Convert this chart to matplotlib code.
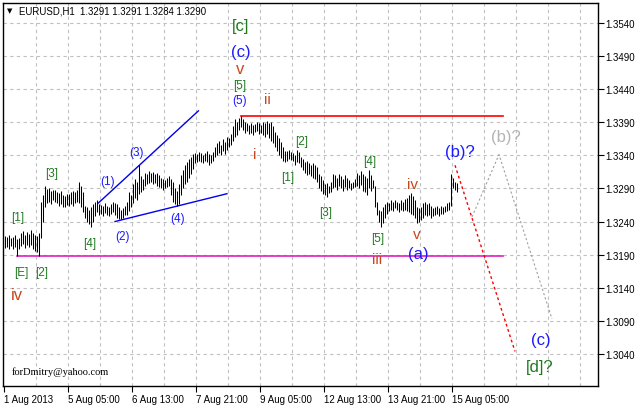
import matplotlib
matplotlib.use("Agg")
import matplotlib.pyplot as plt
from matplotlib.transforms import Affine2D

W, H = 635, 406

# hourly EURUSD bars (high / low), one per hour from the left edge
highs = [
    1.3218, 1.3216, 1.3219, 1.3215, 1.3217, 1.3220, 1.3214,
    1.3215, 1.3222, 1.3226, 1.3219, 1.3224, 1.3221, 1.3227, 1.3223, 1.3220, 1.3218,
    1.3222, 1.3270,
    1.3280, 1.3294, 1.3289, 1.3291, 1.3286, 1.3288, 1.3287, 1.3285, 1.3283, 1.3286,
    1.3280, 1.3278, 1.3282, 1.3281, 1.3284, 1.3286, 1.3284, 1.3288, 1.3300, 1.3294,
    1.3285, 1.3264, 1.3262, 1.3258, 1.3262, 1.3266, 1.3270, 1.3272, 1.3266, 1.3265,
    1.3264, 1.3268, 1.3263, 1.3262, 1.3266, 1.3270, 1.3268, 1.3266, 1.3262, 1.3258,
    1.3260, 1.3264, 1.3270, 1.3285, 1.3280, 1.3296, 1.3304, 1.3300, 1.3325, 1.3308,
    1.3304, 1.3314, 1.3312, 1.3316, 1.3313, 1.3315, 1.3312, 1.3314, 1.3310, 1.3306,
    1.3304, 1.3302, 1.3306, 1.3308, 1.3304, 1.3300, 1.3290, 1.3286, 1.3296, 1.3310,
    1.3318, 1.3326, 1.3330, 1.3334, 1.3338, 1.3342, 1.3344, 1.3342, 1.3345, 1.3343,
    1.3341, 1.3344, 1.3346, 1.3342, 1.3340, 1.3345, 1.3352, 1.3358, 1.3362, 1.3356,
    1.3364, 1.3360, 1.3368, 1.3366, 1.3372, 1.3384, 1.3394, 1.3390, 1.3396, 1.3400,
    1.3394, 1.3390, 1.3388, 1.3386, 1.3388, 1.3385, 1.3387, 1.3390, 1.3388, 1.3386,
    1.3390, 1.3388, 1.3391, 1.3389, 1.3390, 1.3384, 1.3375, 1.3370, 1.3366, 1.3360,
    1.3352, 1.3346, 1.3346, 1.3348, 1.3345, 1.3344, 1.3340, 1.3348, 1.3345, 1.3338,
    1.3334, 1.3330, 1.3332, 1.3328, 1.3326, 1.3328, 1.3325, 1.3322, 1.3312, 1.3308,
    1.3302, 1.3296, 1.3298, 1.3294, 1.3300, 1.3312, 1.3310, 1.3306, 1.3312, 1.3308,
    1.3304, 1.3310, 1.3306, 1.3302, 1.3298, 1.3300, 1.3304, 1.3314, 1.3310, 1.3316,
    1.3312, 1.3308, 1.3306, 1.3318, 1.3310, 1.3302, 1.3294, 1.3270, 1.3258, 1.3256,
    1.3262, 1.3266, 1.3270, 1.3268, 1.3272, 1.3270, 1.3273, 1.3270, 1.3268, 1.3272,
    1.3270, 1.3274, 1.3276, 1.3280, 1.3283, 1.3279, 1.3272, 1.3262, 1.3260, 1.3262,
    1.3268, 1.3270, 1.3266, 1.3268, 1.3264, 1.3260, 1.3262, 1.3263, 1.3261, 1.3264,
    1.3262, 1.3264, 1.3268, 1.3270, 1.3312, 1.3305, 1.3300, 1.3298,
]
lows = [
    1.3200, 1.3202, 1.3199, 1.3203, 1.3198, 1.3201, 1.3188,
    1.3198, 1.3203, 1.3206, 1.3200, 1.3205, 1.3202, 1.3204, 1.3199, 1.3196, 1.3194,
    1.3188, 1.3215,
    1.3240, 1.3262, 1.3268, 1.3270, 1.3266, 1.3272, 1.3270, 1.3268, 1.3264, 1.3266,
    1.3262, 1.3262, 1.3265, 1.3263, 1.3266, 1.3264, 1.3268, 1.3270, 1.3268, 1.3262,
    1.3255, 1.3245, 1.3240, 1.3236, 1.3232, 1.3240, 1.3248, 1.3254, 1.3250, 1.3252,
    1.3248, 1.3253, 1.3250, 1.3249, 1.3251, 1.3254, 1.3250, 1.3246, 1.3244, 1.3244,
    1.3246, 1.3250, 1.3250, 1.3256, 1.3262, 1.3268, 1.3276, 1.3272, 1.3282, 1.3284,
    1.3288, 1.3294, 1.3296, 1.3298, 1.3300, 1.3296, 1.3298, 1.3294, 1.3292, 1.3290,
    1.3288, 1.3290, 1.3292, 1.3294, 1.3280, 1.3270, 1.3266, 1.3263, 1.3266, 1.3280,
    1.3290, 1.3296, 1.3300, 1.3306, 1.3312, 1.3320, 1.3328, 1.3330, 1.3332, 1.3330,
    1.3328, 1.3332, 1.3330, 1.3326, 1.3328, 1.3332, 1.3338, 1.3340, 1.3344, 1.3340,
    1.3346, 1.3342, 1.3348, 1.3352, 1.3356, 1.3362, 1.3368, 1.3370, 1.3378, 1.3382,
    1.3378, 1.3374, 1.3376, 1.3372, 1.3374, 1.3370, 1.3375, 1.3376, 1.3372, 1.3374,
    1.3370, 1.3368, 1.3372, 1.3366, 1.3362, 1.3358, 1.3352, 1.3346, 1.3340, 1.3336,
    1.3332, 1.3330, 1.3332, 1.3334, 1.3333, 1.3331, 1.3326, 1.3330, 1.3328, 1.3322,
    1.3318, 1.3314, 1.3310, 1.3312, 1.3308, 1.3306, 1.3304, 1.3300, 1.3290, 1.3286,
    1.3282, 1.3280, 1.3277, 1.3283, 1.3284, 1.3290, 1.3292, 1.3288, 1.3294, 1.3290,
    1.3286, 1.3292, 1.3288, 1.3290, 1.3288, 1.3290, 1.3292, 1.3294, 1.3290, 1.3295,
    1.3286, 1.3284, 1.3280, 1.3290, 1.3286, 1.3290, 1.3262, 1.3250, 1.3240, 1.3232,
    1.3238, 1.3246, 1.3252, 1.3256, 1.3258, 1.3256, 1.3260, 1.3258, 1.3254, 1.3258,
    1.3256, 1.3258, 1.3256, 1.3254, 1.3252, 1.3250, 1.3246, 1.3238, 1.3240, 1.3242,
    1.3246, 1.3250, 1.3248, 1.3250, 1.3246, 1.3248, 1.3250, 1.3252, 1.3249, 1.3251,
    1.3252, 1.3254, 1.3256, 1.3258, 1.3264, 1.3290, 1.3288, 1.3284,
]

price_ticks = [1.3040, 1.3090, 1.3140, 1.3190, 1.3240, 1.3290, 1.3340, 1.3390, 1.3440, 1.3490, 1.3540]
date_labels = ["1 Aug 2013", "5 Aug 05:00", "6 Aug 13:00", "7 Aug 21:00",
               "9 Aug 05:00", "12 Aug 13:00", "13 Aug 21:00", "15 Aug 05:00"]

# drawn objects (bar index, price)
support = (6, 249, 1.3188)
resistance = (118, 249, 1.3400)
channel_upper = ([46.7, 96.7], [1.3268, 1.3407])
channel_lower = ([55, 111], [1.3240, 1.3282])
forecast_red = ([225, 255], [1.3325, 1.3044])
forecast_gray = ([233.5, 247, 273.5], [1.3247, 1.3341, 1.3093])

GREEN = "#1f7a1f"
BLUE = "#1a1aff"
BROWN = "#c8461e"
GRAY = "#b4b4b4"


def main():
    fig = plt.figure(figsize=(W / 100, H / 100), dpi=100)
    ax = fig.add_axes([3 / W, (H - 387) / H, 595 / W, 383 / H])
    ax.set_xlim(-1, 296.5)
    ax.set_ylim(1.29918, 1.35698)

    for p in price_ticks:
        ax.axhline(p, color="#c0c0c0", lw=0.8, ls=(0, (3, 3)), zorder=0)
    for k in range(1, 19):
        ax.axvline(-0.5 + 16 * k, color="#c0c0c0", lw=0.8, ls=(0, (3, 3)), zorder=0)

    idx = range(len(highs))
    ax.vlines(idx, lows, highs, color="black", lw=0.75, zorder=3)

    ax.plot([support[0], support[1]], [support[2]] * 2, color="#e020c0", lw=1.2, zorder=2)
    ax.plot([resistance[0], resistance[1]], [resistance[2]] * 2, color="red", lw=1.2, zorder=2)
    ax.plot(*channel_upper, color="#0000ee", lw=1.0, zorder=2)
    ax.plot(*channel_lower, color="#0000ee", lw=1.0, zorder=2)
    ax.plot(*forecast_red, color="red", lw=1.0, ls=(0, (2, 2)), zorder=2)
    ax.plot(*forecast_gray, color="#a0a0a0", lw=0.8, ls=(0, (2, 2)), zorder=2)

    ax.yaxis.tick_right()
    ax.set_yticks(price_ticks)
    ax.set_yticklabels(["%.4f" % p for p in price_ticks])
    ax.set_xticks([-0.5 + 32 * k for k in range(len(date_labels))])
    ax.set_xticklabels(date_labels, ha="left")
    ax.tick_params(axis="both", direction="out", length=4, width=0.8, labelsize=7.0,
                   pad=1.5, colors="black")
    for lab in ax.get_xticklabels() + ax.get_yticklabels():
        lab.set_family("Liberation Sans")
    for s in ax.spines.values():
        s.set_linewidth(1.0)

    pix = Affine2D().scale(1 / W, -1 / H).translate(0, 1) + fig.transFigure

    def label(x, y, s, color, size, **kw):
        ax.text(x, y, s, transform=pix, color=color, fontsize=size, ha="center",
                va="center", family="Liberation Sans", **kw)

    # header
    ax.text(10, 11, "\u25bc", transform=pix, fontsize=5, ha="center", va="center")
    ax.text(19, 11, "EURUSD,H1  1.3291 1.3291 1.3284 1.3290", transform=pix,
            fontsize=6.9, ha="left", va="center", family="Liberation Sans")

    # wave labels
    label(241, 27, "[c]", GREEN, 12)
    label(241, 52, "(c)", BLUE, 12)
    label(240, 70, "v", BROWN, 12)
    label(240, 86, "[5]", GREEN, 8.5)
    label(240, 101, "(5)", BLUE, 8.5)
    label(267, 100, "ii", BROWN, 11)
    label(255, 155, "i", BROWN, 11)
    label(302, 142, "[2]", GREEN, 8.5)
    label(288, 178, "[1]", GREEN, 8.5)
    label(326, 213, "[3]", GREEN, 8.5)
    label(370, 162, "[4]", GREEN, 8.5)
    label(378, 239, "[5]", GREEN, 8.5)
    label(377, 260, "iii", BROWN, 11)
    label(413, 185, "iv", BROWN, 11)
    label(417, 235, "v", BROWN, 11)
    label(418, 255, "(a)", BLUE, 12)
    label(460, 153, "(b)?", BLUE, 12)
    label(506, 138, "(b)?", GRAY, 12)
    label(541, 341, "(c)", BLUE, 12)
    label(540, 368, "[d]?", GREEN, 12)

    label(18, 218, "[1]", GREEN, 8.5)
    label(52, 174, "[3]", GREEN, 8.5)
    label(90, 244, "[4]", GREEN, 8.5)
    label(21, 273, "[E]", GREEN, 8.5)
    label(42, 273, "[2]", GREEN, 8.5)
    label(17, 296, "iv", BROWN, 12)
    label(108, 182, "(1)", BLUE, 8.5)
    label(123, 237, "(2)", BLUE, 8.5)
    label(136, 153, "(3)", BLUE, 8.5)
    label(178, 219, "(4)", BLUE, 8.5)

    ax.text(12, 372, "forDmitry@yahoo.com", transform=pix, fontsize=7.5, ha="left",
            va="center", family="Liberation Serif")

    fig.savefig("out.png", dpi=100)


if __name__ == "__main__":
    main()
